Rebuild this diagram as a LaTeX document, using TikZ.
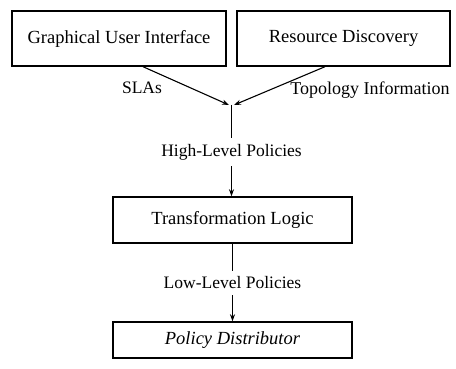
\documentclass[tikz,border=0pt]{standalone}
\usepackage{fontspec}
\setmainfont{Liberation Serif}
\usetikzlibrary{arrows.meta}
\begin{document}
\begin{tikzpicture}[x=1pt,y=1pt,
  block/.style={draw, line width=1.4pt, inner sep=0pt, font=\rmfamily\fontsize{18.5}{22}\selectfont},
  lbl/.style={inner xsep=2pt, inner ysep=6pt, font=\rmfamily\fontsize{17.5}{21}\selectfont},
  flow/.style={line width=1.1pt, -{Stealth[length=7pt,width=5pt]}},
  wire/.style={line width=1.1pt}]
\useasboundingbox (0,0) rectangle (456,-369);

% source blocks
\node[block, minimum width=214pt, minimum height=55pt] (gui) at (119,-38.5) {Graphical User Interface};
\node[block, minimum width=213pt, minimum height=55pt] (rd) at (343.5,-38.5) {Resource Discovery};

% merge point of the two inputs
\coordinate (jl) at (229,-105);
\coordinate (jr) at (234,-105);
\coordinate (j) at (231.5,-105);

\draw[flow] (gui.south -| 143,0) -- (jl);
\draw[flow] (rd.south -| 325,0) -- (jr);
\node[lbl] at (142,-88) {SLAs};
\node[lbl, font=\rmfamily\fontsize{18}{21}\selectfont] at (370,-90) {Topology Information};

% processing chain
\node[lbl] (hl) at (231.5,-152) {High-Level Policies};
\node[block, minimum width=239pt, minimum height=46pt] (tl) at (232.5,-220) {Transformation Logic};
\node[lbl] (ll) at (232.5,-283) {Low-Level Policies};
\node[block, minimum width=239pt, minimum height=36pt] (pd) at (232.5,-340) {\itshape Policy Distributor};

\draw[wire] (j) -- (hl.north -| j);
\draw[flow] (hl.south -| j) -- (tl.north -| j);
\draw[wire] (tl.south) -- (ll.north);
\draw[flow] (ll.south) -- (pd.north);
\end{tikzpicture}
\end{document}
